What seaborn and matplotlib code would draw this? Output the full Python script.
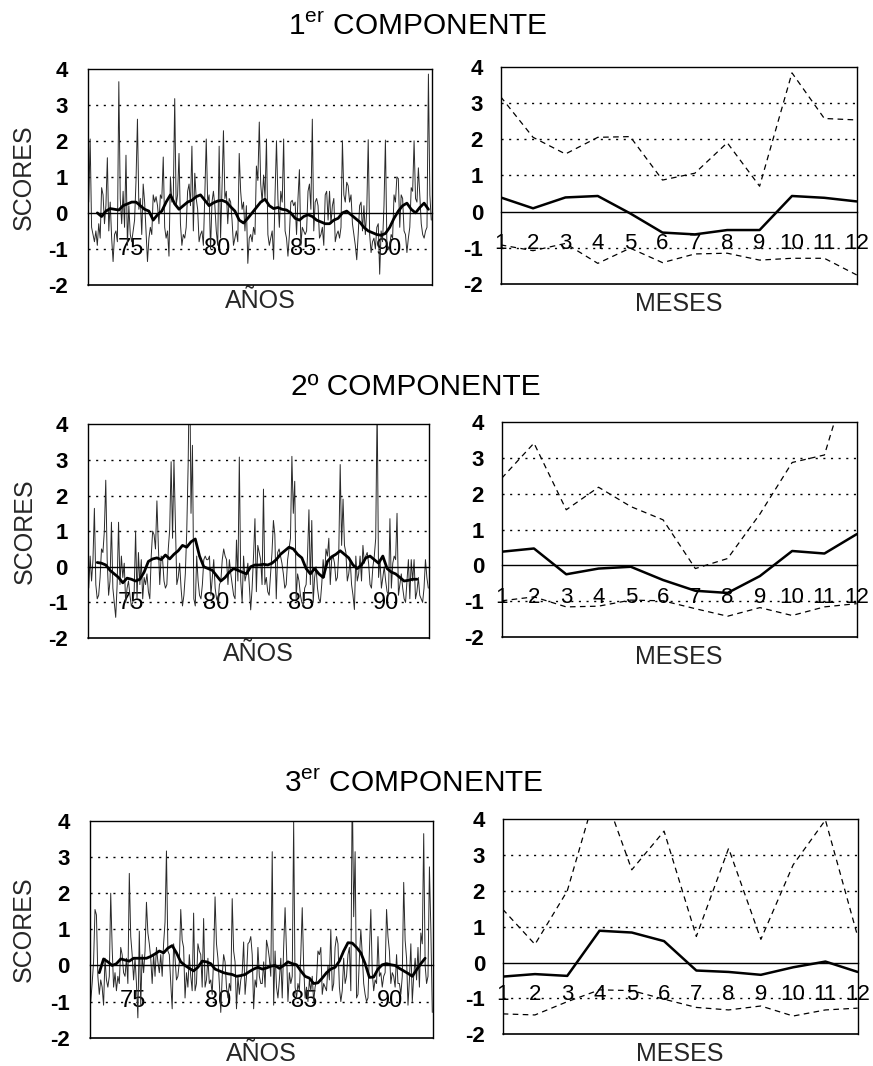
import numpy as np
import pandas as pd
import matplotlib
matplotlib.use("Agg")
import matplotlib.pyplot as plt
import seaborn as sns

# ---------------- DATA ----------------
START_YEAR = 1973          # first month of the monthly series (January)

score1 = [
    0.3, 2.05, -0.4, -0.6, -0.8, -0.5, -0.9, -0.3, -0.7, 0.7, 0.5, -0.3,
    0.2, 1.53, -0.5, 0.3, -0.7, -1.35, -0.6, -0.5, -0.8, 3.64, 0.4, -0.3,
    0.6, -0.4, 1.6, -0.9, 0.2, -0.6, -0.8, -0.5, -0.2, 0.9, 2.6, 0.1,
    0.4, -0.6, 0.8, 0.3, -0.5, -1.35, -0.7, -0.4, -0.6, 0.5, 0.3, 0.45,
    0.2, -0.3, 0.5, 0.4, 1.55, -0.4, -0.7, -0.5, -1.2, 1.0, 0.3, 0.4,
    3.17, 0.2, 0.5, 1.65, -0.3, -0.9, -0.6, -0.7, -0.4, 0.6, 0.8, 0.2,
    1.85, -0.5, 1.1, 0.4, 0.1, -0.8, -0.6, -0.5, -0.9, 0.5, 2.05, 0.3,
    0.5, -1.0, 0.3, 0.6, 0.2, -0.5, -0.9, 1.85, -0.7, 0.7, 2.28, 0.4,
    0.6, -0.3, 0.4, 0.3, -0.2, -0.9, -0.7, -0.5, -0.8, 1.65, 0.6, 0.1,
    0.3, -0.5, 0.2, -1.4, -0.7, -0.6, -0.8, -0.4, -0.6, 1.3, 0.9, 2.52,
    0.8, 0.3, 1.05, 0.4, 2.05, -0.6, -0.9, -0.7, -0.5, -1.29, 0.5, 2.0,
    0.4, -0.4, 0.6, 0.3, 2.05, -0.5, -0.7, -1.2, -0.6, 0.3, 0.35, 0.2,
    0.3, -0.6, 0.4, 1.2, -0.9, -0.4, -0.5, -0.6, -0.5, 0.6, 0.8, 0.1,
    2.6, -0.5, 0.3, 0.4, 0.2, -0.7, -0.6, -0.4, -0.9, 0.5, 0.6, -0.2,
    0.6, -0.3, 0.2, 0.4, -0.8, -0.6, -0.5, -0.7, -0.4, 2.0, 0.5, 0.3,
    0.85, 0.75, 0.3, 0.5, -0.3, -0.6, -0.9, -1.3, -0.6, 0.2, 0.3, -0.5,
    0.2, -0.6, 0.1, 2.03, -0.6, -1.1, -0.8, -0.7, -1.0, -0.4, -0.3, -1.7,
    -0.5, -0.8, 0.2, 2.02, -0.8, -1.0, -0.9, -0.6, -0.7, 0.5, 0.3, 1.0,
    0.95, -0.4, 0.5, 0.4, -0.5, -0.6, -1.1, -0.7, -0.4, 0.7, 0.6, 2.0,
    0.4, 0.3, 1.25, 0.5, -0.3, -0.6, -0.7, -0.5, -0.4, 3.85, 0.5, -0.2,
]

score2 = [
    -0.6, 0.3, -0.4, 0.2, 1.64, -0.5, -0.9, -0.8, -0.3, 0.5, 0.4, 1.0,
    2.43, 0.2, -0.8, -0.4, 1.25, -0.6, -1.0, -1.42, -0.5, 1.25, -0.5, 0.3,
    -0.3, 0.1, -1.0, -0.6, -0.4, -0.8, -1.1, -1.0, -0.7, 1.0, -0.9, 0.4,
    -0.5, 0.2, -0.9, -0.3, -0.5, -0.2, -0.7, -0.9, 0.3, 1.0, 0.9, 0.5,
    1.85, 0.6, -0.5, 0.3, 0.2, -0.4, -0.6, -0.5, 0.5, 1.05, 2.95, 0.8,
    2.98, 1.2, -0.5, -0.3, 0.1, -0.6, -1.1, -0.8, -0.2, 1.0, 2.9, 6.1,
    1.5, 3.41, -0.9, -1.1, 0.3, -0.4, -0.8, -0.9, -0.5, 0.2, 0.3, 0.2,
    0.2, 0.3, -0.8, -0.3, 0.2, -0.6, -0.9, -1.0, -0.5, -0.4, 0.2, 0.5,
    0.3, 0.2, -0.5, 0.2, -0.2, -0.5, -0.8, -0.9, 0.75, -0.4, 3.08, -0.4,
    -1.0, 0.3, -0.4, -0.2, 0.1, -0.5, -1.21, -0.6, 0.3, 1.35, -0.7, 0.6,
    0.4, 0.2, -0.5, 2.18, -0.5, -0.3, -0.7, -0.8, -0.2, 0.4, 1.3, 0.9,
    -0.9, 0.4, 0.5, 0.3, 0.1, -0.2, -0.6, -0.5, 0.2, 0.5, 0.8, 3.1,
    1.5, 2.4, -0.9, -0.2, -0.4, -0.8, -1.0, -1.1, -0.6, -0.5, 0.3, 1.6,
    -0.5, 1.3, -1.0, -0.3, 0.0, -0.6, -0.9, -1.0, -0.5, 0.2, -0.3, 0.5,
    0.3, 0.8, -0.5, 0.2, 0.3, 0.1, -0.4, -0.3, 0.4, 2.87, 0.6, 1.9,
    0.6, 0.4, -0.4, -0.2, 0.2, -0.5, -0.8, -1.2, 0.3, -0.4, -0.2, 0.3,
    -0.4, 0.6, 0.1, 0.3, 0.4, 0.1, -0.5, -0.6, 0.0, 0.3, 0.8, 4.6,
    -0.3, 0.2, -0.6, -0.3, 0.0, -0.4, -0.7, -0.8, 1.35, -0.6, 0.1, 0.3,
    0.2, 1.5, -0.8, -0.5, -0.2, -0.6, -0.9, -1.0, -0.4, 0.2, -0.9, 0.2,
    -0.4, 0.2, -0.9, -0.7, -0.3, -0.8, -0.9, -1.0, -0.6, 0.2, -0.3, -0.6,
]

score3 = [
    -1.0, -0.5, 0.1, 1.55, 1.4, -0.3, -0.8, -0.4, -0.6, -1.1, 0.2, -0.4,
    -0.6, -0.3, 2.0, 0.5, -0.6, -0.2, -0.7, -0.3, -0.5, 0.5, 0.3, -0.2,
    -0.3, 0.2, -0.5, 2.55, 0.8, 0.3, -0.4, 0.2, -0.5, -1.45, 0.95, -1.1,
    0.3, -0.2, 0.4, 1.75, 0.9, 0.6, 0.2, -0.5, 0.3, -0.3, 0.5, 0.1,
    -0.2, 0.3, -0.3, 0.6, 1.2, 3.17, 0.4, 0.3, -0.5, -1.2, 0.6, 0.2,
    -0.4, -0.3, 0.1, 1.55, 0.7, 0.5, -0.9, -0.2, -0.6, 0.3, -0.3, -0.7,
    1.45, -0.7, -0.5, 0.6, 0.4, 0.3, -0.6, 1.3, -0.6, -0.4, 0.2, -0.5,
    -0.4, -0.8, 0.2, 1.9, 0.6, 0.2, -0.5, -1.3, -0.3, 0.3, 0.1, -0.6,
    -0.9, -0.5, -0.7, 1.85, 0.4, 0.1, -1.2, -0.3, -0.8, -0.4, -0.2, 0.65,
    -0.8, -0.3, 0.6, 0.65, 0.8, 0.3, -1.2, -0.4, -0.6, 0.5, -0.3, -0.5,
    -0.5, 0.1, -0.6, 0.7, 0.5, 0.2, -0.3, 3.15, -1.1, 0.4, -0.6, -0.9,
    -0.4, 0.2, -0.9, 0.5, 1.6, 0.4, -1.0, -0.2, -0.5, -0.3, 3.98, -0.6,
    -0.9, -0.5, -0.7, 0.3, 1.6, 0.0, -0.9, -0.6, -1.0, -0.4, -0.7, -0.3,
    -1.0, -0.6, -0.4, 0.4, 0.3, 0.5, -0.8, -0.5, -0.6, -0.7, 0.0, -0.4,
    1.0, -0.7, -0.5, 0.5, 0.8, 0.6, -0.6, -1.0, -0.7, 0.2, -0.5, -0.3,
    0.3, 0.5, -0.7, 5.1, 1.35, 3.15, -0.9, -0.8, 0.2, 1.0, 0.3, -0.5,
    -0.8, -1.0, -0.9, 0.4, 1.55, -0.2, -0.7, -0.4, -0.5, 0.8, -0.3, -0.2,
    -0.6, -0.3, -0.2, 1.55, 0.8, 0.4, -0.5, -0.2, -0.3, -0.6, 0.3, -0.5,
    -0.5, -0.8, -0.3, 2.3, 0.7, 0.2, -1.1, -0.4, 0.6, -1.0, -0.3, 0.2,
    -0.4, 0.5, -0.6, 0.9, 0.6, 3.65, 0.0, -0.5, -0.3, 2.73, 1.0, -1.3,
]

# smoothed (moving-average) curves, read every 3 months starting at month 6
SMOOTH_FIRST_MONTH = 6
SMOOTH_STEP = 3
smooth1 = [
    0.0, -0.1, 0.05, 0.12, 0.1, 0.08, 0.2, 0.25, 0.3, 0.3,
    0.2, 0.1, 0.05, -0.2, -0.05, 0.05, 0.3, 0.5, 0.25, 0.1,
    0.2, 0.3, 0.35, 0.45, 0.5, 0.35, 0.2, 0.28, 0.33, 0.35,
    0.3, 0.17, 0.05, -0.2, -0.28, -0.15, 0.0, 0.15, 0.3, 0.38,
    0.2, 0.12, 0.15, 0.1, 0.08, 0.0, -0.15, -0.2, -0.1, -0.05,
    -0.1, -0.2, -0.25, -0.3, -0.3, -0.2, -0.15, 0.0, 0.05, -0.05,
    -0.15, -0.25, -0.4, -0.5, -0.55, -0.6, -0.62, -0.57, -0.4, -0.15,
    0.05, 0.2, 0.27, 0.1, 0.0, 0.15, 0.27, 0.1,
]
smooth2 = [
    0.12, 0.1, 0.05, -0.1, -0.2, -0.3, -0.45, -0.32, -0.35, -0.4,
    -0.35, -0.15, 0.15, 0.22, 0.25, 0.2, 0.33, 0.22, 0.35, 0.45,
    0.6, 0.55, 0.7, 0.78, 0.3, 0.0, -0.05, -0.1, -0.25, -0.4,
    -0.3, -0.15, -0.05, -0.1, -0.15, -0.2, 0.0, 0.05, 0.05, 0.07,
    0.05, 0.1, 0.2, 0.35, 0.45, 0.55, 0.5, 0.35, 0.25, -0.05,
    -0.2, -0.05, -0.2, -0.3, 0.15, 0.28, 0.35, 0.45, 0.35, 0.25,
    0.05, -0.05, 0.05, 0.25, 0.3, 0.2, 0.1, 0.3, -0.05, -0.15,
    -0.2, -0.3, -0.4, -0.38, -0.35, -0.35,
]
smooth3 = [
    -0.2, 0.18, 0.1, 0.0, 0.05, 0.18, 0.15, 0.12, 0.2, 0.2,
    0.2, 0.2, 0.25, 0.32, 0.4, 0.35, 0.48, 0.55, 0.35, 0.1,
    0.0, -0.08, -0.15, -0.05, 0.12, 0.1, 0.05, -0.1, -0.15, -0.2,
    -0.23, -0.25, -0.3, -0.28, -0.25, -0.17, -0.1, -0.05, -0.1, -0.07,
    -0.02, 0.0, -0.08, 0.0, 0.1, 0.05, 0.02, -0.15, -0.3, -0.35,
    -0.5, -0.48, -0.35, -0.2, -0.1, -0.05, 0.12, 0.4, 0.63, 0.62,
    0.5, 0.35, 0.05, -0.33, -0.32, -0.1, 0.02, 0.05, 0.02, 0.0,
    -0.08, -0.15, -0.22, -0.3, -0.12, 0.05, 0.2,
]

MESES = [1, 2, 3, 4, 5, 6, 7, 8, 9, 10, 11, 12]
max1 = [3.17, 2.05, 1.59, 2.05, 2.07, 0.87, 1.06, 1.90, 0.70, 3.83, 2.57, 2.53]
mean1 = [0.39, 0.09, 0.39, 0.43, -0.05, -0.58, -0.63, -0.51, -0.51, 0.43, 0.38, 0.28]
min1 = [-0.92, -1.08, -0.88, -1.43, -1.01, -1.41, -1.17, -1.15, -1.34, -1.29, -1.29, -1.75]
max2 = [2.43, 3.41, 1.55, 2.18, 1.64, 1.27, -0.09, 0.19, 1.43, 2.87, 3.08, 6.05]
mean2 = [0.38, 0.47, -0.25, -0.09, -0.04, -0.41, -0.71, -0.77, -0.30, 0.40, 0.33, 0.87]
min2 = [-0.99, -0.88, -1.16, -1.14, -0.97, -0.99, -1.21, -1.42, -1.18, -1.40, -1.16, -1.07]
max3 = [1.49, 0.51, 2.00, 5.10, 2.59, 3.67, 0.73, 3.19, 0.65, 2.73, 3.98, 0.73]
mean3 = [-0.39, -0.32, -0.37, 0.89, 0.84, 0.60, -0.22, -0.26, -0.34, -0.13, 0.03, -0.26]
min3 = [-1.43, -1.46, -1.09, -0.76, -0.78, -1.02, -1.25, -1.32, -1.21, -1.49, -1.32, -1.27]

YEAR_TICKS = [1975, 1980, 1985, 1990]
YEAR_LABELS = ["75", "80", "85", "90"]
Y_TICKS = [-2, -1, 0, 1, 2, 3, 4]
TITLES = [r"1$^{\mathregular{er}}$ COMPONENTE", "2º COMPONENTE",
          r"3$^{\mathregular{er}}$ COMPONENTE"]

# ---------------- STYLE ----------------
sns.set_style("white")
plt.rcParams["font.family"] = ["Liberation Sans", "DejaVu Sans"]
plt.rcParams["mathtext.fontset"] = "custom"
plt.rcParams["mathtext.rm"] = "Liberation Sans"
plt.rcParams["axes.edgecolor"] = "black"
plt.rcParams["text.color"] = "black"
plt.rcParams["xtick.color"] = "black"
plt.rcParams["ytick.color"] = "black"

W, H = 873, 1066
fig = plt.figure(figsize=(W / 100, H / 100), dpi=100)


def rect(x0, y0, x1, y1):
    return [x0 / W, 1 - y1 / H, (x1 - x0) / W, (y1 - y0) / H]


LEFT_RECTS = [(88, 68.7, 432, 285), (88, 424.3, 429, 638), (90, 821, 433, 1037.7)]
RIGHT_RECTS = [(500.7, 66.7, 856.7, 284), (501.7, 422, 856.7, 637),
               (502.7, 819.3, 857.7, 1034.3)]
TITLE_POS = [(418, 35), (416, 395), (414, 791.5)]

DOT = (0, (1.5, 4))


def frame(ax, ytick_pad):
    ax.set_ylim(-2, 4)
    for y in [-1, 1, 2, 3]:
        ax.axhline(y, color="black", lw=1.0, ls=DOT, zorder=1)
    for s in ["left", "right", "top"]:
        ax.spines[s].set_visible(True)
        ax.spines[s].set_color("black")
        ax.spines[s].set_linewidth(1.0)
    ax.spines["bottom"].set_visible(True)
    ax.spines["bottom"].set_position(("data", 0))
    ax.spines["bottom"].set_linewidth(1.0)
    ax.spines["bottom"].set_color("black")
    ax.axhline(-2, color="black", lw=1.2, clip_on=False)
    ax.set_yticks(Y_TICKS, labels=[str(v) for v in Y_TICKS])
    ax.tick_params(axis="y", length=0, pad=ytick_pad, labelsize=16)
    for t in ax.get_yticklabels():
        t.set_fontweight("bold")


series = [(score1, smooth1, max1, mean1, min1),
          (score2, smooth2, max2, mean2, min2),
          (score3, smooth3, max3, mean3, min3)]

for r, (sc, sm, mx, mn, mi) in enumerate(series):
    # ----- left panel: monthly time series -----
    axl = fig.add_axes(rect(*LEFT_RECTS[r]))
    n = len(sc)
    df = pd.DataFrame({
        "anio": START_YEAR + (np.arange(n) + 0.5) / 12.0,
        "score": sc,
    })
    dsm = pd.DataFrame({
        "anio": START_YEAR + (SMOOTH_FIRST_MONTH + SMOOTH_STEP * np.arange(len(sm)) + 0.5) / 12.0,
        "score": sm,
    })
    sns.lineplot(data=df, x="anio", y="score", ax=axl, color="#2a2a2a",
                 lw=0.7, estimator=None, legend=False, zorder=2)
    sns.lineplot(data=dsm, x="anio", y="score", ax=axl, color="black",
                 lw=2.0, estimator=None, legend=False, zorder=3)
    axl.set_xlim(START_YEAR, START_YEAR + n / 12.0)
    frame(axl, 14.4)
    axl.set_xticks([y + 0.5 for y in YEAR_TICKS], labels=YEAR_LABELS)
    axl.tick_params(axis="x", length=0, pad=18, labelsize=17)
    axl.set_ylabel("SCORES", fontsize=18, va="center")
    axl.yaxis.set_label_coords(-0.186 if r < 2 else -0.192, 0.5)
    axl.set_xlabel("AÑOS", fontsize=18, va="top")
    axl.xaxis.set_label_coords(0.5, -0.02)

    # ----- right panel: monthly statistics -----
    axr = fig.add_axes(rect(*RIGHT_RECTS[r]))
    dm = pd.DataFrame({"mes": MESES, "max": mx, "media": mn, "min": mi})
    sns.lineplot(data=dm, x="mes", y="max", ax=axr, color="black", lw=0.9,
                 dashes=False, legend=False, zorder=2).lines[-1].set_dashes((4.5, 3.5))
    sns.lineplot(data=dm, x="mes", y="min", ax=axr, color="black", lw=0.9,
                 legend=False, zorder=2).lines[-1].set_dashes((4.5, 3.5))
    sns.lineplot(data=dm, x="mes", y="media", ax=axr, color="black", lw=1.8,
                 legend=False, zorder=3)
    axr.set_xlim(1, 12)
    frame(axr, 12.7)
    axr.set_xticks(MESES, labels=[str(m) for m in MESES])
    axr.tick_params(axis="x", length=5, width=1.0, direction="out", pad=10.5,
                    labelsize=16)
    axr.set_ylabel("")
    axr.set_xlabel("MESES", fontsize=18, va="top")
    axr.xaxis.set_label_coords(0.5, -0.035)

    tx, ty = TITLE_POS[r]
    fig.text(tx / W, 1 - ty / H, TITLES[r], ha="center", va="baseline",
             fontsize=21.5)

fig.savefig("out.png", dpi=100, facecolor="white")
